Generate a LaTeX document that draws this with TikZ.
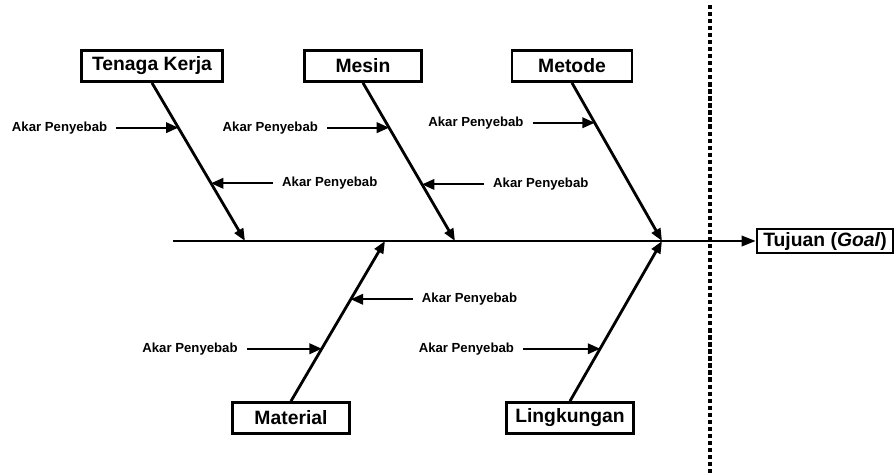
\documentclass[tikz,border=0pt]{standalone}
\usepackage{fontspec}
\setmainfont{Liberation Sans}
\usetikzlibrary{arrows.meta,positioning,calc}

\begin{document}
\begin{tikzpicture}[x=0.02cm,y=-0.02cm,font=\bfseries,
    cat/.style={rectangle,draw,line width=1.6pt,minimum height=0.62cm,inner sep=1pt,font=\bfseries\fontsize{11}{13}\selectfont},
    root/.style={inner xsep=5pt,inner ysep=1pt,font=\bfseries\fontsize{7.5}{9}\selectfont},
    bone/.style={line width=1.6pt,-{Triangle[length=7pt,width=5.5pt]}},
    cause/.style={line width=1.1pt,-{Triangle[length=7pt,width=6pt]}},
    >=Latex]
  \useasboundingbox (0,0) rectangle (896,474);
  % categories
  \node[cat,minimum width=2.82cm] (tk) at (152,66) {Tenaga Kerja};
  \node[cat,minimum width=2.34cm] (ms) at (363,66) {Mesin};
  \node[cat,minimum width=2.40cm] (mt) at (572,66) {Metode};
  \node[cat,minimum width=2.34cm] (ma) at (291,418) {Material};
  \node[cat,minimum width=2.54cm] (lk) at (570,418) {Lingkungan};
  \node[cat,minimum width=2.72cm,minimum height=0.48cm] (goal) at (825,241) {Tujuan (\textit{Goal})};
  % spine
  \coordinate (s0) at (173,241);
  \coordinate (h1) at (245,241);
  \coordinate (h2) at (455,241);
  \coordinate (h3) at (662,241);
  \coordinate (h4) at (385,241);
  \draw[line width=1.2pt,-{Triangle[length=8pt,width=6pt]}] (s0) -- (s0 -| goal.west);
  \coordinate (d0) at (710,5);
  \coordinate (d1) at (710,474);
  \draw[line width=2pt,dash pattern=on 2.4pt off 1.6pt] (d0) -- (d1);
  % bones
  \draw[bone] (tk.south) -- (h1);
  \draw[bone] (ms.south) -- (h2);
  \draw[bone] (mt.south) -- (h3);
  \draw[bone] (ma.north) -- (h4);
  \draw[bone] (lk.north) -- (h3);
  % root causes
  \coordinate (p1) at ($(tk.south)!0.283!(h1)$);
  \coordinate (p2) at ($(tk.south)!0.635!(h1)$);
  \coordinate (p3) at ($(ms.south)!0.283!(h2)$);
  \coordinate (p4) at ($(ms.south)!0.642!(h2)$);
  \coordinate (p5) at ($(mt.south)!0.252!(h3)$);
  \coordinate (p6) at ($(ma.north)!0.636!(h4)$);
  \coordinate (p7) at ($(ma.north)!0.327!(h4)$);
  \coordinate (p8) at ($(lk.north)!0.327!(h3)$);
  \node[root,left=1.24cm of p1] (r1) {Akar Penyebab};
  \node[root,right=1.24cm of p2] (r2) {Akar Penyebab};
  \node[root,left=1.24cm of p3] (r3) {Akar Penyebab};
  \node[root,right=1.24cm of p4] (r4) {Akar Penyebab};
  \node[root,left=1.24cm of p5] (r5) {Akar Penyebab};
  \node[root,right=1.24cm of p6] (r6) {Akar Penyebab};
  \node[root,left=1.5cm of p7] (r7) {Akar Penyebab};
  \node[root,left=1.54cm of p8] (r8) {Akar Penyebab};
  \foreach \i in {1,...,8}
    \draw[cause] (r\i) -- (p\i);
\end{tikzpicture}
\end{document}
